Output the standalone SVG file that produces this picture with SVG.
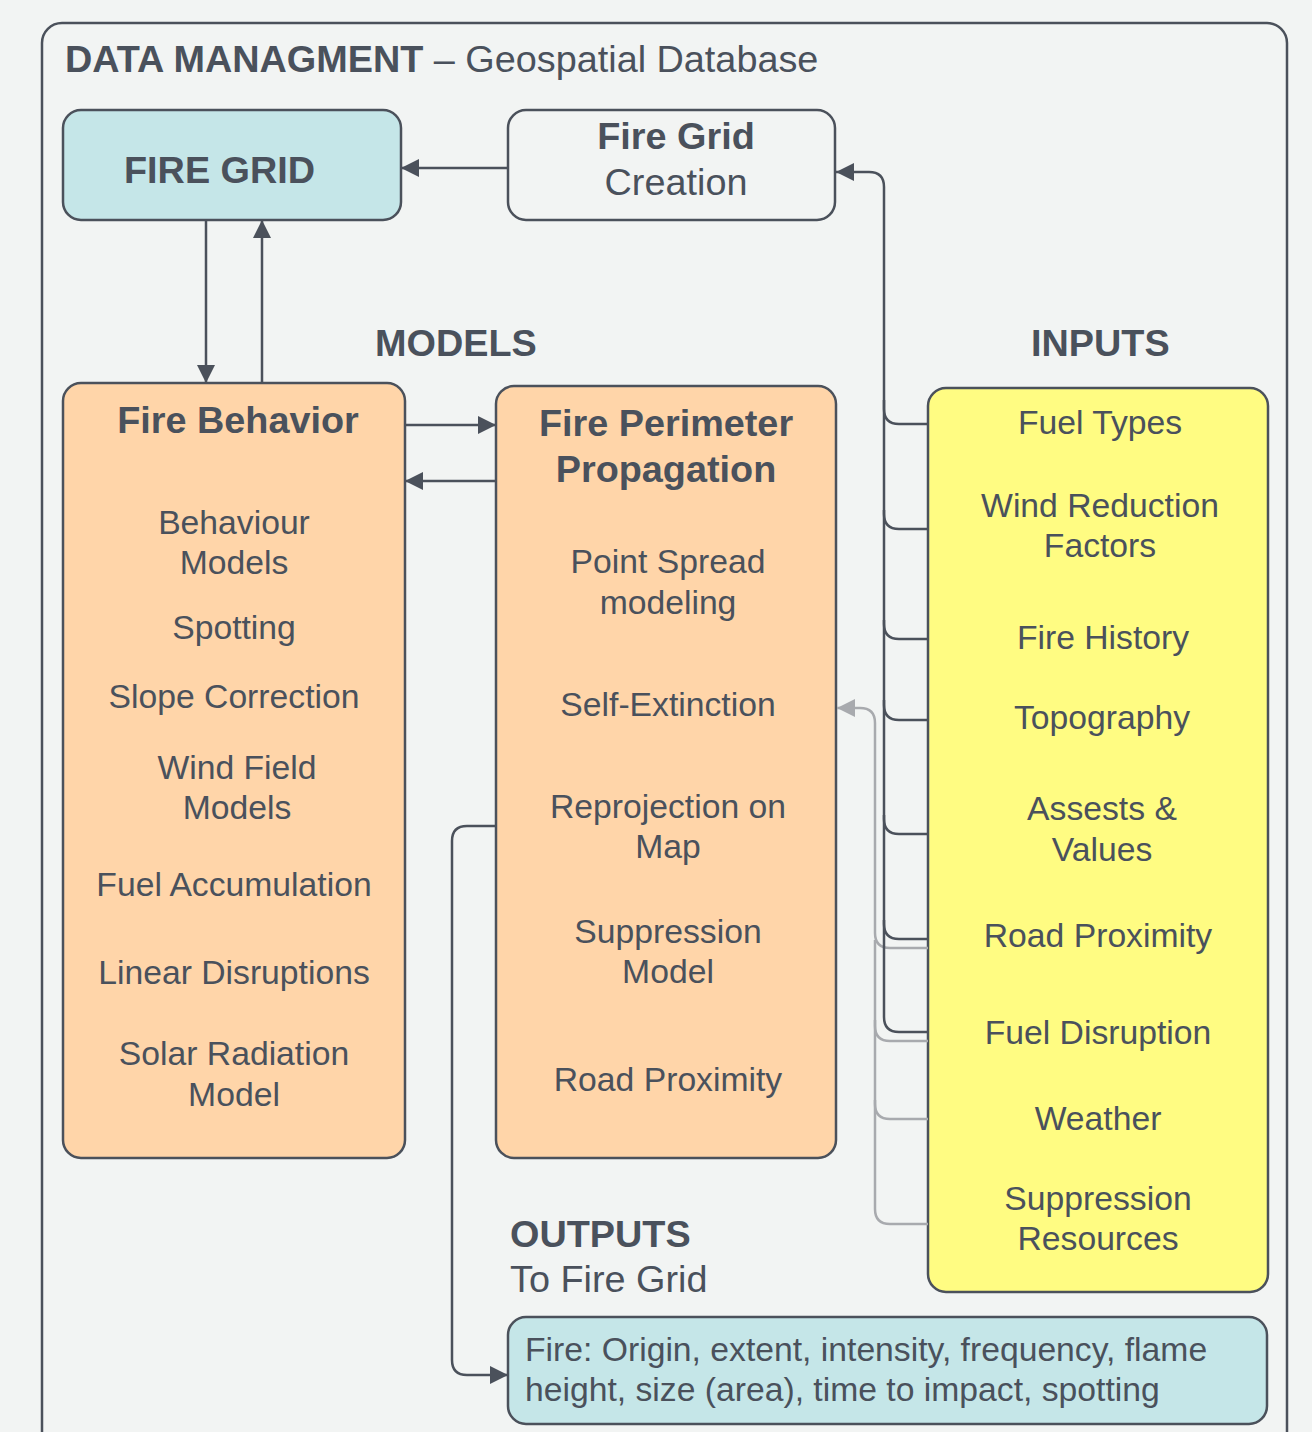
<svg xmlns="http://www.w3.org/2000/svg" width="1312" height="1432" viewBox="0 0 1312 1432">
<style>
text{font-family:"Liberation Sans",Arial,sans-serif;fill:#4a515c}
.t{font-size:37.8px;font-weight:bold}
.r{font-size:37.8px}
.b{font-size:33.7px}
.c{text-anchor:middle}
.box{stroke:#4b515b;stroke-width:2.5}
.ln{fill:none;stroke:#4b515b;stroke-width:2.5}
.gl{fill:none;stroke:#a8aaae;stroke-width:2.5}
</style>
<defs>
<marker id="ad" markerUnits="userSpaceOnUse" markerWidth="20" markerHeight="20" refX="18" refY="9" orient="auto"><path d="M0,0 L18,9 L0,18 Z" fill="#4b515b"/></marker>
<marker id="ag" markerUnits="userSpaceOnUse" markerWidth="20" markerHeight="20" refX="18" refY="9" orient="auto"><path d="M0,0 L18,9 L0,18 Z" fill="#a8aaae"/></marker>
</defs>
<rect width="1312" height="1432" fill="#f2f4f3"/>
<g id="container">
<rect x="42" y="23" width="1245" height="1460" rx="20" fill="#f2f4f3" class="box"/>
<text x="65" y="72"><tspan class="t">DATA MANAGMENT</tspan><tspan class="r"> – Geospatial Database</tspan></text>
</g>
<g id="fire-grid">
<rect x="63" y="110" width="338" height="110" rx="18" fill="#c5e6e8" class="box"/>
<text class="t" x="124" y="183">FIRE GRID</text>
</g>
<g id="fire-grid-creation">
<rect x="508" y="110" width="327" height="110" rx="18" fill="#f2f4f3" class="box"/>
<text class="t c" x="676" y="149">Fire Grid</text>
<text class="r c" x="676" y="195">Creation</text>
</g>
<g id="labels">
<text class="t" x="375" y="356">MODELS</text>
<text class="t" x="1031" y="356">INPUTS</text>
<text class="t" x="510" y="1247">OUTPUTS</text>
<text class="r" x="510" y="1292">To Fire Grid</text>
</g>
<g id="fire-behavior">
<rect x="63" y="383" width="342" height="775" rx="18" fill="#ffd5a9" class="box"/>
<text class="t c" x="238" y="433">Fire Behavior</text>
<text class="b c" x="234" y="534">Behaviour</text>
<text class="b c" x="234" y="574">Models</text>
<text class="b c" x="234" y="639">Spotting</text>
<text class="b c" x="234" y="708">Slope Correction</text>
<text class="b c" x="237" y="779">Wind Field</text>
<text class="b c" x="237" y="819">Models</text>
<text class="b c" x="234" y="896">Fuel Accumulation</text>
<text class="b c" x="234" y="984">Linear Disruptions</text>
<text class="b c" x="234" y="1065">Solar Radiation</text>
<text class="b c" x="234" y="1106">Model</text>
</g>
<g id="fire-perimeter">
<rect x="496" y="386" width="340" height="772" rx="18" fill="#ffd5a9" class="box"/>
<text class="t c" x="666" y="436">Fire Perimeter</text>
<text class="t c" x="666" y="482">Propagation</text>
<text class="b c" x="668" y="573">Point Spread</text>
<text class="b c" x="668" y="614">modeling</text>
<text class="b c" x="668" y="716">Self-Extinction</text>
<text class="b c" x="668" y="818">Reprojection on</text>
<text class="b c" x="668" y="858">Map</text>
<text class="b c" x="668" y="943">Suppression</text>
<text class="b c" x="668" y="983">Model</text>
<text class="b c" x="668" y="1091">Road Proximity</text>
</g>
<g id="inputs">
<rect x="928" y="388" width="340" height="904" rx="18" fill="#fffc82" class="box"/>
<text class="b c" x="1100" y="434">Fuel Types</text>
<text class="b c" x="1100" y="517">Wind Reduction</text>
<text class="b c" x="1100" y="557">Factors</text>
<text class="b c" x="1103" y="649">Fire History</text>
<text class="b c" x="1102" y="729">Topography</text>
<text class="b c" x="1102" y="820">Assests &amp;</text>
<text class="b c" x="1102" y="861">Values</text>
<text class="b c" x="1098" y="947">Road Proximity</text>
<text class="b c" x="1098" y="1044">Fuel Disruption</text>
<text class="b c" x="1098" y="1130">Weather</text>
<text class="b c" x="1098" y="1210">Suppression</text>
<text class="b c" x="1098" y="1250">Resources</text>
</g>
<g id="outputs">
<rect x="508" y="1317" width="759" height="107" rx="18" fill="#c5e6e8" class="box"/>
<text class="b" x="525" y="1361">Fire: Origin, extent, intensity, frequency, flame</text>
<text class="b" x="525" y="1401">height, size (area), time to impact, spotting</text>
</g>
<g id="connectors">
<path class="ln" d="M508,168 H401" marker-end="url(#ad)"/>
<path class="ln" d="M206,220 V383" marker-end="url(#ad)"/>
<path class="ln" d="M262,383 V220" marker-end="url(#ad)"/>
<path class="ln" d="M405,425 H496" marker-end="url(#ad)"/>
<path class="ln" d="M496,481 H405" marker-end="url(#ad)"/>
<path class="ln" d="M496,826 H467 Q452,826 452,841 V1360 Q452,1375 467,1375 H508" marker-end="url(#ad)"/>
<path class="gl" d="M928,948 H890 Q875,948 875,933 V723 Q875,708 860,708 H837" marker-end="url(#ag)"/>
<path class="gl" d="M928,1041 H890 Q875,1041 875,1026 V940"/>
<path class="gl" d="M928,1119 H890 Q875,1119 875,1104 V1020"/>
<path class="gl" d="M928,1224 H890 Q875,1224 875,1209 V1100"/>
<path class="ln" d="M928,424 H899 Q884,424 884,409 V187 Q884,172 869,172 H836" marker-end="url(#ad)"/>
<path class="ln" d="M928,529 H899 Q884,529 884,514 V400"/>
<path class="ln" d="M928,639 H899 Q884,639 884,624 V510"/>
<path class="ln" d="M928,720 H899 Q884,720 884,705 V620"/>
<path class="ln" d="M928,834 H899 Q884,834 884,819 V700"/>
<path class="ln" d="M928,939 H899 Q884,939 884,924 V815"/>
<path class="ln" d="M928,1032 H899 Q884,1032 884,1017 V920"/>
</g>
</svg>
